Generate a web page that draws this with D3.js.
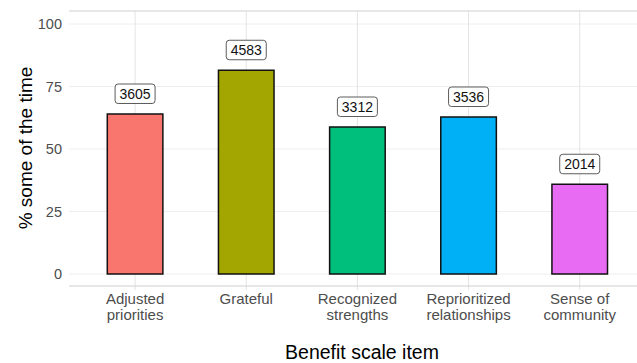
<!DOCTYPE html>
<html>
<head>
<meta charset="utf-8">
<script src="https://cdn.jsdelivr.net/npm/d3@7"></script>
<style>
  html, body { margin: 0; padding: 0; background: #fff; }
  svg { display: block; font-family: "Liberation Sans", Arial, sans-serif; }
</style>
</head>
<body>
<svg id="chart" width="637" height="363"></svg>
<script>
// Benefit scale items and the share answering "some of the time"
const categories = ["Adjusted priorities", "Grateful", "Recognized strengths", "Reprioritized relationships", "Sense of community"];
const categoryLines = [["Adjusted", "priorities"], ["Grateful"], ["Recognized", "strengths"], ["Reprioritized", "relationships"], ["Sense of", "community"]];
const percentValues = [64.0, 81.5, 58.8, 62.8, 35.9];
const countLabels = [3605, 4583, 3312, 3536, 2014];
const fillColors = ["#F8766D", "#A3A500", "#00BF7D", "#00B0F6", "#E76BF3"];
const yTicks = [0, 25, 50, 75, 100];

const svg = d3.select("#chart");
const panel = { left: 69, top: 11, bottom: 286 };

const x = d3.scaleBand()
  .domain(categories)
  .range([79.5, 635.3])
  .paddingInner(0.5)
  .paddingOuter(0.25);

const y = d3.scaleLinear().domain([0, 100]).range([274, 24]);

// gridlines
const grid = svg.append("g");
yTicks.forEach(t => {
  grid.append("line")
    .attr("x1", panel.left).attr("x2", 637)
    .attr("y1", y(t)).attr("y2", y(t))
    .attr("stroke", "#eeeeee").attr("stroke-width", 1);
});
categories.forEach(c => {
  const cx = x(c) + x.bandwidth() / 2;
  grid.append("line")
    .attr("x1", cx).attr("x2", cx)
    .attr("y1", panel.top).attr("y2", panel.bottom + 4)
    .attr("stroke", "#e4e4e4").attr("stroke-width", 1);
});

// top and bottom panel rules
[panel.top, panel.bottom].forEach(py => {
  svg.append("line")
    .attr("x1", panel.left).attr("x2", 637)
    .attr("y1", py).attr("y2", py)
    .attr("stroke", "#cfcfcf").attr("stroke-width", 1.2);
});

// bars
svg.append("g").selectAll("rect")
  .data(categories)
  .join("rect")
  .attr("x", c => x(c))
  .attr("width", x.bandwidth())
  .attr("y", (c, i) => y(percentValues[i]))
  .attr("height", (c, i) => y(0) - y(percentValues[i]))
  .attr("fill", (c, i) => fillColors[i])
  .attr("stroke", "#111")
  .attr("stroke-width", 1.5);

// count labels in rounded boxes
const labels = svg.append("g").selectAll("g")
  .data(categories)
  .join("g")
  .attr("transform", (c, i) => `translate(${x(c) + x.bandwidth() / 2},${y(percentValues[i]) - 20})`);
labels.append("rect")
  .attr("x", -20).attr("y", -10)
  .attr("width", 40).attr("height", 19.5)
  .attr("rx", 3).attr("ry", 3)
  .attr("fill", "#fff")
  .attr("stroke", "#333").attr("stroke-width", 0.8);
labels.append("text")
  .attr("text-anchor", "middle")
  .attr("dy", "0.36em")
  .attr("font-size", 14)
  .attr("fill", "#111")
  .text((c, i) => countLabels[i]);

// y axis tick labels
svg.append("g").selectAll("text")
  .data(yTicks)
  .join("text")
  .attr("x", 62)
  .attr("y", d => y(d))
  .attr("dy", "0.35em")
  .attr("text-anchor", "end")
  .attr("font-size", 14.5)
  .attr("fill", "#4d4d4d")
  .text(d => d);

// x axis tick labels
const xt = svg.append("g").selectAll("text")
  .data(categories)
  .join("text")
  .attr("x", c => x(c) + x.bandwidth() / 2)
  .attr("y", 303.5)
  .attr("text-anchor", "middle")
  .attr("font-size", 15)
  .attr("fill", "#4d4d4d");
xt.selectAll("tspan")
  .data((c, i) => categoryLines[i])
  .join("tspan")
  .attr("x", function() { return this.parentNode.getAttribute("x"); })
  .attr("dy", (d, i) => i === 0 ? 0 : 16.8)
  .text(d => d);

// axis titles
svg.append("text")
  .attr("x", 362).attr("y", 358.5)
  .attr("text-anchor", "middle")
  .attr("font-size", 19.5)
  .attr("fill", "#000")
  .text("Benefit scale item");

svg.append("text")
  .attr("transform", "translate(31.5,148) rotate(-90)")
  .attr("text-anchor", "middle")
  .attr("font-size", 19)
  .attr("fill", "#000")
  .text("% some of the time");
</script>
</body>
</html>
